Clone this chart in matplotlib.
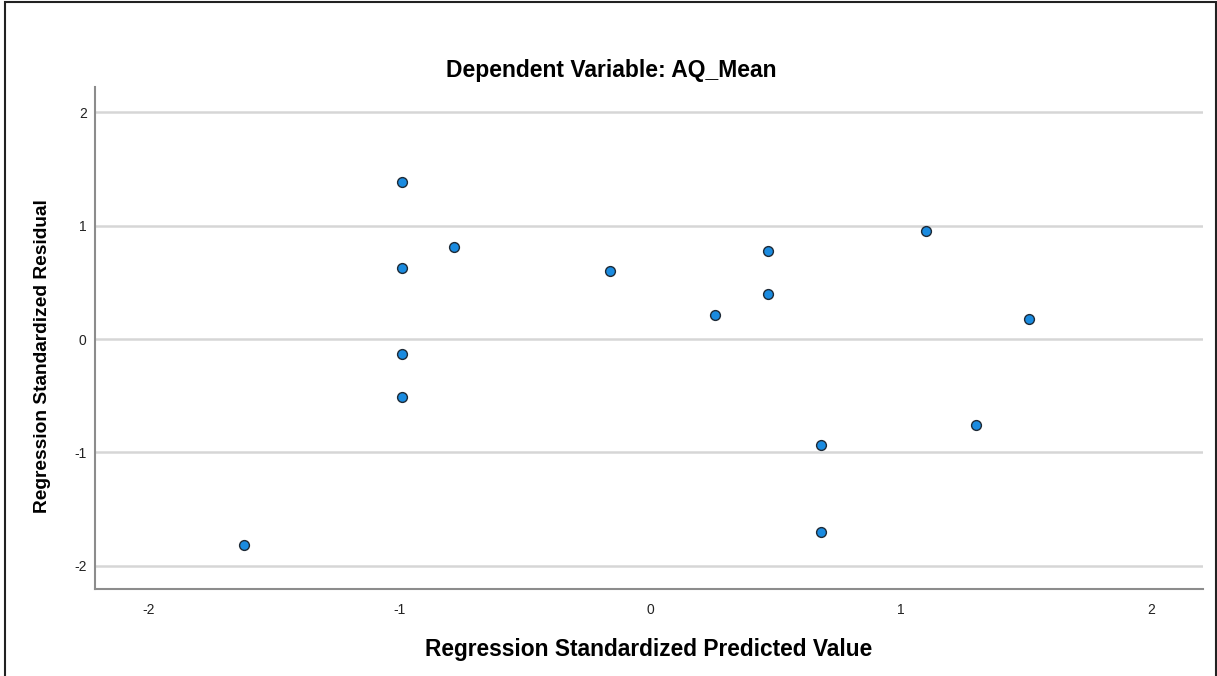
import numpy as np
import matplotlib.pyplot as plt
from matplotlib.patches import Rectangle

plt.rcParams['font.family'] = ['Liberation Sans', 'DejaVu Sans']
plt.rcParams['axes.unicode_minus'] = False

# Data
pred = [-1.62, -0.99, -0.99, -0.99, -0.99, -0.78, -0.16, 0.26, 0.47, 0.47,
        0.68, 0.68, 1.10, 1.30, 1.51]
resid = [-1.82, 1.39, 0.63, -0.13, -0.51, 0.81, 0.60, 0.21, 0.78, 0.40,
         -0.94, -1.70, 0.95, -0.76, 0.18]
ticks = [-2, -1, 0, 1, 2]

fig = plt.figure(figsize=(12.17, 6.76), dpi=100)
ax = fig.add_axes([95 / 1217, 87 / 676, 1108 / 1217, 502 / 676])

# outer frame of the image
fig.add_artist(Rectangle((5 / 1217, -0.05), 1211 / 1217, 1.05 - 2 / 676,
                         transform=fig.transFigure, fill=False,
                         edgecolor='#222222', linewidth=1.5, clip_on=False))

ax.scatter(pred, resid, s=50, color='#1a8be0', edgecolors='#1e2a36',
           linewidths=1.0, zorder=3)

ax.set_xlim(-2.213, 2.205)
ax.set_ylim(-2.207, 2.225)
ax.set_xticks(ticks)
ax.set_yticks(ticks)
ax.yaxis.grid(True, color='#d6d6d6', linewidth=1.8)
ax.set_axisbelow(True)

for side in ['top', 'right']:
    ax.spines[side].set_visible(False)
for side in ['left', 'bottom']:
    ax.spines[side].set_color('#8c8c8c')
    ax.spines[side].set_linewidth(1.5)

ax.tick_params(length=0, labelsize=10, colors='#222222')
ax.tick_params(axis='x', pad=10)
ax.tick_params(axis='y', pad=6)

fig.text(611 / 1217, 1 - 71 / 676, 'Dependent Variable: AQ_Mean',
         fontsize=16.5, fontweight='bold', ha='center', va='center')
ax.set_xlabel('Regression Standardized Predicted Value', fontsize=16.4,
              fontweight='bold', labelpad=15)
fig.text(43 / 1217, 1 - 356 / 676, 'Regression Standardized Residual',
         fontsize=13.8, fontweight='bold', rotation=90,
         ha='center', va='center')

plt.savefig('out.png', dpi=100)
